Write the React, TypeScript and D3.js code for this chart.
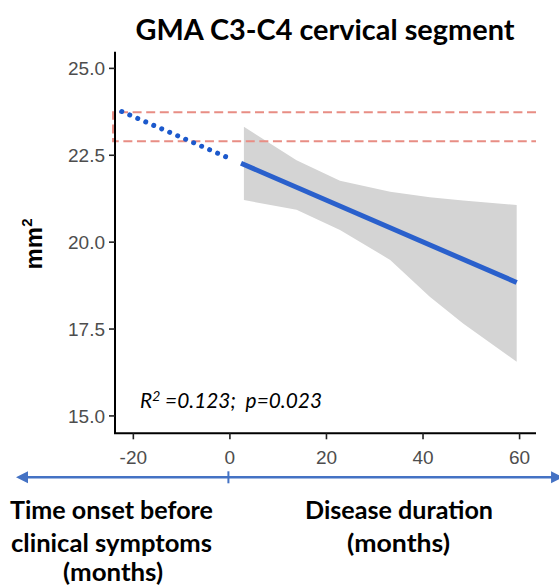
import React, { useRef, useEffect } from "react";
import * as d3 from "d3";

// axis ticks
const xTicks = [-20, 0, 20, 40, 60];
const yTicks = [15, 17.5, 20, 22.5, 25];

// grey confidence ribbon (months, mm^2)
const ribbonMonths = [2.9, 13.8, 22.8, 33.2, 41.4, 48.3, 59.4];
const ribbonUpper = [23.32, 22.36, 21.77, 21.45, 21.29, 21.2, 21.07];
const ribbonLower = [21.21, 20.93, 20.35, 19.49, 18.43, 17.66, 16.56];

// fitted regression, observed range and back-extrapolated part
const fitMonths = [2.3, 59.4];
const fitArea = [22.27, 18.84];
const extrapMonths = [-22.4, 0.6];
const extrapArea = [23.76, 22.37];

// dashed reference band (healthy range)
const bandLow = 22.9;
const bandHigh = 23.74;
const bandMonths = [-24.2, 63.4];

// arrow under the x axis
const arrowMonths = [-44.3, 69.0];

const App = () => {
  const svgRef = useRef<SVGSVGElement | null>(null);

  useEffect(() => {
    const svg = d3.select(svgRef.current);
    svg.selectAll("*").remove();

    const x = d3.scaleLinear().domain([-23.8, 63.4]).range([115, 536]);
    const y = d3.scaleLinear().domain([14.5, 25.48]).range([433.3, 51.7]);

    const g = svg.append("g");

    // ---- ribbon ----
    const ribbon = ribbonMonths.map((m, i) => ({ m, lo: ribbonLower[i], hi: ribbonUpper[i] }));
    g.append("path")
      .datum(ribbon)
      .attr("fill", "#d4d4d4")
      .attr(
        "d",
        d3
          .area<any>()
          .x(d => x(d.m))
          .y0(d => y(d.lo))
          .y1(d => y(d.hi))
      );

    // ---- dashed reference band ----
    g.append("path")
      .attr("fill", "none")
      .attr("stroke", "#e88d84")
      .attr("stroke-width", 2)
      .attr("stroke-dasharray", "9 4.6")
      .attr(
        "d",
        `M${x(bandMonths[1])},${y(bandHigh)}H${x(bandMonths[0])}V${y(bandLow)}H${x(bandMonths[1])}`
      );

    // ---- extrapolated (dotted) ----
    g.append("path")
      .attr("fill", "none")
      .attr("stroke", "#1c59cc")
      .attr("stroke-width", 5)
      .attr("stroke-linecap", "round")
      .attr("stroke-dasharray", "0.01 8.7")
      .attr(
        "d",
        d3
          .line<number>()
          .x(d => x(d))
          .y((d, i) => y(extrapArea[i]))(extrapMonths)
      );

    // ---- fitted line ----
    g.append("path")
      .attr("fill", "none")
      .attr("stroke", "#2a60cc")
      .attr("stroke-width", 5)
      .attr(
        "d",
        d3
          .line<number>()
          .x(d => x(d))
          .y((d, i) => y(fitArea[i]))(fitMonths)
      );

    // ---- axes ----
    const [x0, x1] = x.range();
    const [yb, yt] = y.range();
    g.append("line")
      .attr("x1", x0).attr("x2", x0).attr("y1", yt).attr("y2", yb)
      .attr("stroke", "#000").attr("stroke-width", 2);
    g.append("line")
      .attr("x1", x0 - 1).attr("x2", x1).attr("y1", yb).attr("y2", yb)
      .attr("stroke", "#000").attr("stroke-width", 2);

    g.selectAll("line.ytick")
      .data(yTicks)
      .join("line")
      .attr("class", "ytick")
      .attr("x1", x0 - 6).attr("x2", x0)
      .attr("y1", d => y(d)).attr("y2", d => y(d))
      .attr("stroke", "#222").attr("stroke-width", 1.6);
    g.selectAll("text.ylab")
      .data(yTicks)
      .join("text")
      .attr("class", "ylab")
      .attr("x", x0 - 10)
      .attr("y", d => y(d))
      .attr("dy", "0.36em")
      .attr("text-anchor", "end")
      .attr("fill", "#4d4d4d")
      .style("font-family", "'Liberation Sans', Arial, sans-serif")
      .style("font-size", "19px")
      .text(d => d3.format(".1f")(d));

    g.selectAll("line.xtick")
      .data(xTicks)
      .join("line")
      .attr("class", "xtick")
      .attr("x1", d => x(d)).attr("x2", d => x(d))
      .attr("y1", yb).attr("y2", yb + 6)
      .attr("stroke", "#222").attr("stroke-width", 1.6);
    g.selectAll("text.xlab")
      .data(xTicks)
      .join("text")
      .attr("class", "xlab")
      .attr("x", d => x(d))
      .attr("y", yb + 31)
      .attr("text-anchor", "middle")
      .attr("fill", "#4d4d4d")
      .style("font-family", "'Liberation Sans', Arial, sans-serif")
      .style("font-size", "19px")
      .text(d => String(d));

    // y axis title mm^2
    const yt2 = g
      .append("text")
      .attr("transform", `translate(42,244) rotate(-90)`)
      .attr("text-anchor", "middle")
      .attr("fill", "#000")
      .style("font-family", "'Liberation Sans', Arial, sans-serif")
      .style("font-size", "24px")
      .style("font-weight", 700);
    yt2.append("tspan").text("mm");
    yt2.append("tspan").attr("dy", -10).style("font-size", "15px").text("2");

    // title
    g.append("text")
      .attr("x", 325)
      .attr("y", 40)
      .attr("text-anchor", "middle")
      .attr("textLength", 379)
      .attr("lengthAdjust", "spacingAndGlyphs")
      .style("font-family", "Lato, 'Open Sans', sans-serif")
      .style("font-size", "28px")
      .style("font-weight", 700)
      .text("GMA C3-C4 cervical segment");

    // R2 / p annotation
    const ann = g
      .append("text")
      .attr("x", 140)
      .attr("y", 408)
      .attr("textLength", 182)
      .attr("lengthAdjust", "spacingAndGlyphs")
      .style("font-family", "Lato, 'Open Sans', sans-serif")
      .style("font-size", "21px")
      .style("font-style", "italic");
    ann.append("tspan").text("R");
    ann.append("tspan").attr("dy", -7).style("font-size", "14px").text("2");
    ann.append("tspan").attr("dy", 7).text(" =0.123;\u00a0 p=0.023");

    // ---- arrow ----
    const ay = 477.3;
    const aL = x(arrowMonths[0]);
    const aR = x(arrowMonths[1]);
    const blue = "#4472c4";
    g.append("line")
      .attr("x1", aL + 8).attr("x2", aR - 8).attr("y1", ay).attr("y2", ay)
      .attr("stroke", blue).attr("stroke-width", 2.5);
    g.append("path")
      .attr("fill", blue)
      .attr("d", `M${aL},${ay}L${aL + 12},${ay - 6}L${aL + 12},${ay + 6}Z`);
    g.append("path")
      .attr("fill", blue)
      .attr("d", `M${aR},${ay}L${aR - 12},${ay - 6}L${aR - 12},${ay + 6}Z`);
    g.append("line")
      .attr("x1", x(0) - 1.5).attr("x2", x(0) - 1.5)
      .attr("y1", ay - 6).attr("y2", ay + 6)
      .attr("stroke", blue).attr("stroke-width", 2);

    // ---- bottom captions ----
    const captions = [
      { text: "Time onset before", cx: 111.5, by: 519, w: 203 },
      { text: "clinical symptoms", cx: 111.5, by: 551.5, w: 201 },
      { text: "(months)", cx: 113, by: 580.5, w: 100 },
      { text: "Disease duration", cx: 399, by: 519, w: 188 },
      { text: "(months)", cx: 398.5, by: 551.5, w: 103 }
    ];
    g.selectAll("text.caption")
      .data(captions)
      .join("text")
      .attr("class", "caption")
      .attr("x", d => d.cx)
      .attr("y", d => d.by)
      .attr("text-anchor", "middle")
      .attr("textLength", d => d.w)
      .attr("lengthAdjust", "spacingAndGlyphs")
      .style("font-family", "Lato, 'Open Sans', sans-serif")
      .style("font-size", "25px")
      .style("font-weight", 700)
      .text(d => d.text);
  }, []);

  return (
    <svg
      ref={svgRef}
      width={559}
      height={586}
      style={{ position: "absolute", left: 0, top: 0, background: "#fff", display: "block" }}
    />
  );
};

export default App;
